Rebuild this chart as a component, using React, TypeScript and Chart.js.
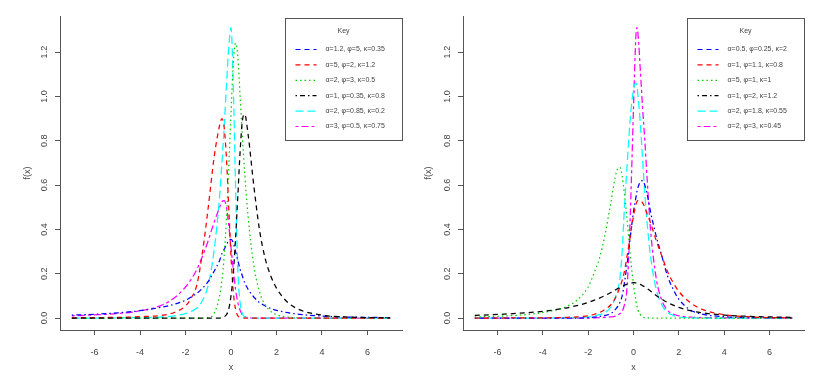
import React, { useEffect, useRef } from 'react';
import { Chart, registerables } from 'chart.js';

Chart.register(...registerables);

const FONT = '"Liberation Sans", Arial, Helvetica, sans-serif';

const X_TICKS = [-6, -4, -2, 0, 2, 4, 6];
const Y_TICKS = [0, 0.2, 0.4, 0.6, 0.8, 1.0, 1.2];

// ---- Left panel ----
const X_LEFT = [-7, -6, -5, -4, -3, -2.5, -2, -1.75, -1.5, -1.25, -1, -0.75, -0.5, -0.4, -0.3, -0.2, -0.1, 0, 0.1, 0.2, 0.3, 0.4, 0.5, 0.6, 0.75, 1, 1.25, 1.5, 1.75, 2, 2.5, 3, 4, 5, 6, 7];
const LEFT_BLACK = [0, 0, 0, 0, 0, 0, 0, 0, 0, 0, 0, 0, 0, 0.002, 0.006, 0.015, 0.04, 0.1, 0.2, 0.36, 0.55, 0.75, 0.89, 0.92, 0.83, 0.6, 0.4, 0.27, 0.19, 0.135, 0.07, 0.038, 0.013, 0.005, 0.002, 0.001];
const LEFT_RED = [0.001, 0.002, 0.003, 0.006, 0.013, 0.025, 0.055, 0.09, 0.15, 0.3, 0.5, 0.72, 0.87, 0.9, 0.86, 0.72, 0.5, 0.28, 0.12, 0.04, 0.01, 0.003, 0.001, 0, 0, 0, 0, 0, 0, 0, 0, 0, 0, 0, 0, 0];
const LEFT_GREEN = [0, 0, 0, 0, 0, 0, 0, 0, 0, 0, 0.002, 0.02, 0.1, 0.17, 0.28, 0.45, 0.68, 0.92, 1.15, 1.24, 1.18, 1.0, 0.82, 0.66, 0.46, 0.24, 0.12, 0.06, 0.03, 0.015, 0.004, 0.001, 0, 0, 0, 0];
const LEFT_BLUE = [0.013, 0.017, 0.023, 0.033, 0.05, 0.062, 0.08, 0.095, 0.112, 0.135, 0.165, 0.21, 0.26, 0.29, 0.31, 0.33, 0.35, 0.355, 0.34, 0.3, 0.26, 0.22, 0.19, 0.16, 0.13, 0.095, 0.07, 0.055, 0.043, 0.035, 0.024, 0.017, 0.009, 0.005, 0.003, 0.002];
const LEFT_CYAN = [0, 0, 0.001, 0.002, 0.005, 0.01, 0.02, 0.03, 0.045, 0.08, 0.15, 0.3, 0.55, 0.7, 0.86, 1.05, 1.22, 1.31, 1.05, 0.6, 0.22, 0.07, 0.02, 0.005, 0.001, 0, 0, 0, 0, 0, 0, 0, 0, 0, 0, 0];
const LEFT_MAGENTA = [0.01, 0.014, 0.02, 0.032, 0.06, 0.09, 0.14, 0.175, 0.22, 0.28, 0.35, 0.43, 0.5, 0.525, 0.53, 0.5, 0.42, 0.32, 0.22, 0.13, 0.07, 0.035, 0.015, 0.006, 0.002, 0, 0, 0, 0, 0, 0, 0, 0, 0, 0, 0];
const LEFT_LEGEND = ['α=1.2, φ=5, κ=0.35', 'α=5, φ=2, κ=1.2', 'α=2, φ=3, κ=0.5', 'α=1, φ=0.35, κ=0.8', 'α=2, φ=0.85, κ=0.2', 'α=3, φ=0.5, κ=0.75'];

// ---- Right panel ----
const X_RIGHT = [-7, -6, -5, -4, -3, -2.5, -2, -1.75, -1.5, -1.25, -1, -0.75, -0.6, -0.5, -0.4, -0.3, -0.2, -0.1, 0, 0.1, 0.15, 0.2, 0.3, 0.4, 0.5, 0.6, 0.75, 1, 1.25, 1.5, 1.75, 2, 2.5, 3, 4, 5, 6, 7];
const RIGHT_BLACK = [0.012, 0.016, 0.022, 0.03, 0.045, 0.056, 0.07, 0.08, 0.09, 0.102, 0.115, 0.13, 0.138, 0.143, 0.148, 0.152, 0.156, 0.158, 0.16, 0.159, 0.158, 0.156, 0.152, 0.146, 0.14, 0.133, 0.122, 0.102, 0.085, 0.07, 0.058, 0.048, 0.033, 0.024, 0.013, 0.008, 0.005, 0.003];
const RIGHT_RED = [0, 0, 0.001, 0.001, 0.003, 0.005, 0.01, 0.016, 0.025, 0.04, 0.06, 0.1, 0.14, 0.17, 0.21, 0.27, 0.33, 0.4, 0.46, 0.51, 0.525, 0.53, 0.53, 0.52, 0.5, 0.47, 0.43, 0.35, 0.28, 0.21, 0.16, 0.12, 0.07, 0.04, 0.015, 0.006, 0.002, 0.001];
const RIGHT_GREEN = [0.005, 0.008, 0.013, 0.025, 0.05, 0.08, 0.14, 0.2, 0.27, 0.38, 0.52, 0.66, 0.68, 0.64, 0.56, 0.46, 0.35, 0.24, 0.15, 0.08, 0.055, 0.035, 0.015, 0.005, 0.002, 0.001, 0, 0, 0, 0, 0, 0, 0, 0, 0, 0, 0, 0];
const RIGHT_BLUE = [0, 0, 0, 0, 0, 0, 0.002, 0.004, 0.007, 0.012, 0.02, 0.045, 0.07, 0.1, 0.16, 0.23, 0.31, 0.4, 0.48, 0.54, 0.57, 0.59, 0.615, 0.62, 0.6, 0.56, 0.48, 0.37, 0.28, 0.19, 0.13, 0.085, 0.037, 0.018, 0.006, 0.002, 0.001, 0];
const RIGHT_CYAN = [0, 0, 0, 0, 0.001, 0.002, 0.005, 0.008, 0.015, 0.025, 0.05, 0.11, 0.18, 0.3, 0.5, 0.66, 0.82, 0.95, 1.03, 1.06, 1.05, 1.0, 0.88, 0.72, 0.56, 0.43, 0.28, 0.13, 0.06, 0.025, 0.012, 0.005, 0.001, 0, 0, 0, 0, 0];
const RIGHT_MAGENTA = [0, 0, 0, 0, 0, 0, 0, 0.001, 0.002, 0.003, 0.005, 0.01, 0.02, 0.03, 0.06, 0.12, 0.3, 0.6, 0.95, 1.26, 1.31, 1.28, 1.12, 0.95, 0.8, 0.63, 0.4, 0.18, 0.08, 0.035, 0.018, 0.01, 0.004, 0.002, 0.001, 0, 0, 0];
const RIGHT_LEGEND = ['α=0.5, φ=0.25, κ=2', 'α=1, φ=1.1, κ=0.8', 'α=5, φ=1, κ=1', 'α=1, φ=2, κ=1.2', 'α=2, φ=1.8, κ=0.55', 'α=2, φ=3, κ=0.45'];

const PLOT_COLORS = ['#000000', '#FF0000', '#00D000', '#0000FF', '#00FFFF', '#FF00FF'];
const LEGEND_COLORS = ['#0000FF', '#FF0000', '#00D000', '#000000', '#00FFFF', '#FF00FF'];
const DASHES = [[5, 4], [5, 4], [1.5, 3], [1.5, 3, 5, 3], [8, 4], [3, 3, 7, 3]];

const AXIS_COLOR = '#555555';
const TEXT_COLOR = '#444444';

type Panel = {
  x: number[];
  series: number[][];
  legend: string[];
  yAxisWidth: number;
  rightPad: number;
  yTitlePad: number;
};

const LEFT_PANEL: Panel = {
  x: X_LEFT,
  series: [LEFT_BLACK, LEFT_RED, LEFT_GREEN, LEFT_BLUE, LEFT_CYAN, LEFT_MAGENTA],
  legend: LEFT_LEGEND,
  yAxisWidth: 60,
  rightPad: 11,
  yTitlePad: 22,
};

const RIGHT_PANEL: Panel = {
  x: X_RIGHT,
  series: [RIGHT_BLACK, RIGHT_RED, RIGHT_GREEN, RIGHT_BLUE, RIGHT_CYAN, RIGHT_MAGENTA],
  legend: RIGHT_LEGEND,
  yAxisWidth: 50,
  rightPad: 23,
  yTitlePad: 10,
};

function keyPlugin(labels: string[]) {
  return {
    id: 'keyBox',
    afterDraw(chart: any) {
      const { ctx, chartArea } = chart;
      const w = 117;
      const h = 122;
      const x0 = Math.round(chartArea.right - w) + 0.5;
      const y0 = Math.round(chartArea.top + 2) + 0.5;
      ctx.save();
      ctx.fillStyle = '#ffffff';
      ctx.fillRect(x0, y0, w, h);
      ctx.strokeStyle = AXIS_COLOR;
      ctx.lineWidth = 1;
      ctx.setLineDash([]);
      ctx.strokeRect(x0, y0, w, h);
      ctx.font = `7px ${FONT}`;
      ctx.fillStyle = TEXT_COLOR;
      ctx.textAlign = 'center';
      ctx.textBaseline = 'middle';
      ctx.fillText('Key', x0 + 58, y0 + 13);
      ctx.textAlign = 'left';
      labels.forEach((t, i) => {
        const y = y0 + 31 + i * 15.4;
        ctx.strokeStyle = LEGEND_COLORS[i];
        ctx.lineWidth = 1.2;
        ctx.setLineDash(DASHES[i]);
        ctx.beginPath();
        ctx.moveTo(x0 + 10, y);
        ctx.lineTo(x0 + 31, y);
        ctx.stroke();
        ctx.fillStyle = TEXT_COLOR;
        ctx.fillText(t, x0 + 40, y);
      });
      ctx.restore();
    },
  };
}

function buildConfig(p: Panel): any {
  return {
    type: 'line',
    data: {
      datasets: p.series.map((ys, i) => ({
        data: p.x.map((x, j) => ({ x, y: ys[j] })),
        borderColor: PLOT_COLORS[i],
        borderDash: DASHES[i],
        borderWidth: 1.25,
        pointRadius: 0,
        fill: false,
        cubicInterpolationMode: 'monotone',
      })),
    },
    options: {
      responsive: false,
      animation: false,
      devicePixelRatio: 1,
      layout: { padding: { left: 0, top: 16, right: p.rightPad, bottom: 0 } },
      plugins: { legend: { display: false }, tooltip: { enabled: false } },
      scales: {
        x: {
          type: 'linear',
          min: -7.52,
          max: 7.52,
          afterBuildTicks: (s: any) => { s.ticks = X_TICKS.map((v) => ({ value: v })); },
          afterFit: (s: any) => { s.height = 50; },
          ticks: {
            color: TEXT_COLOR,
            font: { size: 9, family: FONT },
            padding: 12,
            maxRotation: 0,
            autoSkip: false,
            callback: (v: number) => String(v),
          },
          grid: { display: true, drawOnChartArea: false, drawTicks: true, tickLength: 5, color: AXIS_COLOR },
          border: { display: true, color: AXIS_COLOR, width: 1 },
          title: { display: true, text: 'x', color: TEXT_COLOR, font: { size: 9, family: FONT }, padding: { top: 0, bottom: 6.6 } },
        },
        y: {
          type: 'linear',
          min: -0.054,
          max: 1.363,
          afterBuildTicks: (s: any) => { s.ticks = Y_TICKS.map((v) => ({ value: v })); },
          afterFit: (s: any) => { s.width = p.yAxisWidth; },
          ticks: {
            color: TEXT_COLOR,
            font: { size: 9, family: FONT },
            padding: 4,
            minRotation: 90,
            maxRotation: 90,
            crossAlign: 'center',
            autoSkip: false,
            callback: (v: number) => v.toFixed(1),
          },
          grid: { display: true, drawOnChartArea: false, drawTicks: true, tickLength: 5, color: AXIS_COLOR },
          border: { display: true, color: AXIS_COLOR, width: 1 },
          title: { display: true, text: 'f(x)', color: TEXT_COLOR, font: { size: 9, family: FONT }, padding: { top: p.yTitlePad, bottom: 0 } },
        },
      },
    },
    plugins: [keyPlugin(p.legend)],
  };
}

export default function App() {
  const leftRef = useRef<HTMLCanvasElement>(null);
  const rightRef = useRef<HTMLCanvasElement>(null);

  useEffect(() => {
    const a = new Chart(leftRef.current as HTMLCanvasElement, buildConfig(LEFT_PANEL));
    const b = new Chart(rightRef.current as HTMLCanvasElement, buildConfig(RIGHT_PANEL));
    return () => {
      a.destroy();
      b.destroy();
    };
  }, []);

  return (
    <div style={{ position: 'fixed', left: 0, top: 0, width: 827, height: 380, background: '#ffffff' }}>
      <canvas ref={leftRef} width={413} height={380} style={{ position: 'absolute', left: 0, top: 0, width: 413, height: 380 }} />
      <canvas ref={rightRef} width={414} height={380} style={{ position: 'absolute', left: 413, top: 0, width: 414, height: 380 }} />
    </div>
  );
}
